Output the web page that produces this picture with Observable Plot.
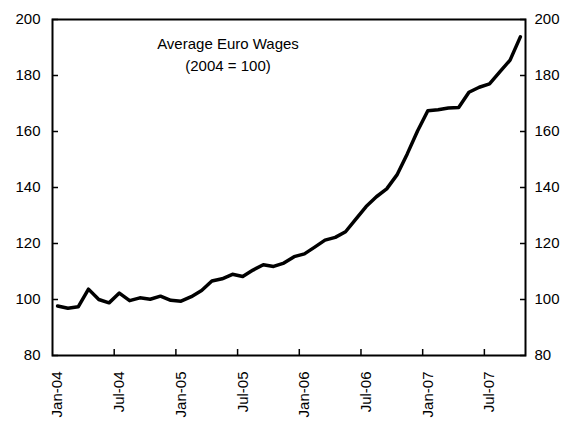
<!DOCTYPE html>
<html><head><meta charset="utf-8">
<script src="https://cdn.jsdelivr.net/npm/d3@7"></script>
<script src="https://cdn.jsdelivr.net/npm/@observablehq/plot@0.6"></script>
<style>body{margin:0;background:#fff} svg{font-family:"Liberation Sans",Arial,sans-serif}</style>
</head><body><div id="chart"></div>
<script>
const months = [
  "Jan-04","Feb-04","Mar-04","Apr-04","May-04","Jun-04","Jul-04","Aug-04","Sep-04","Oct-04","Nov-04","Dec-04",
  "Jan-05","Feb-05","Mar-05","Apr-05","May-05","Jun-05","Jul-05","Aug-05","Sep-05","Oct-05","Nov-05","Dec-05",
  "Jan-06","Feb-06","Mar-06","Apr-06","May-06","Jun-06","Jul-06","Aug-06","Sep-06","Oct-06","Nov-06","Dec-06",
  "Jan-07","Feb-07","Mar-07","Apr-07","May-07","Jun-07","Jul-07","Aug-07","Sep-07","Oct-07"
];
const values = [
  97.7, 96.9, 97.4, 103.7, 100.0, 98.8, 102.3, 99.6, 100.6, 100.1, 101.2, 99.7,
  99.4, 101.0, 103.2, 106.6, 107.4, 109.0, 108.2, 110.5, 112.4, 111.8, 113.0, 115.3,
  116.3, 118.7, 121.2, 122.2, 124.2, 128.7, 133.2, 136.7, 139.5, 144.5, 152.0, 160.2,
  167.4, 167.8, 168.4, 168.6, 174.0, 175.8, 177.0, 181.3, 185.5, 193.8
];
const tickLabels = ["Jan-04","Jul-04","Jan-05","Jul-05","Jan-06","Jul-06","Jan-07","Jul-07"];
const yTicks = [80, 100, 120, 140, 160, 180, 200];
const title = "Average Euro Wages\n(2004 = 100)";

const data = months.map((m, i) => ({i, month: m, value: values[i]}));
const labelIdx = tickLabels.map(t => months.indexOf(t));
const boundaryIdx = labelIdx.slice(1).map(i => i - 0.5);

const chart = Plot.plot({
  width: 566, height: 424,
  marginLeft: 52, marginRight: 41, marginTop: 19, marginBottom: 69,
  style: {fontFamily: '"Liberation Sans", Arial, sans-serif', fontSize: "15px", color: "#000", background: "#fff"},
  x: {domain: [-0.5, months.length - 0.5], label: null},
  y: {domain: [80, 200], label: null},
  marks: [
    Plot.axisY(yTicks, {anchor: "left", tickSize: 0, tickPadding: 12, fontSize: 15, label: null}),
    Plot.axisY(yTicks, {anchor: "left", tickSize: -6, strokeWidth: 1.5, tickFormat: () => "", label: null}),
    Plot.axisY(yTicks, {anchor: "right", tickSize: 0, tickPadding: 9, fontSize: 15, label: null}),
    Plot.axisY(yTicks, {anchor: "right", tickSize: -6, strokeWidth: 1.5, tickFormat: () => "", label: null}),
    Plot.axisX(labelIdx, {anchor: "bottom", tickSize: 0, tickRotate: -90, tickPadding: 16, fontSize: 15, tickFormat: i => months[i], label: null}),
    Plot.axisX(boundaryIdx, {anchor: "bottom", tickSize: -6, strokeWidth: 1.5, tickFormat: () => "", label: null}),
    Plot.frame({stroke: "#000", strokeWidth: 2}),
    Plot.lineY(data, {x: "i", y: "value", stroke: "#000", strokeWidth: 3.5, strokeLinejoin: "round"}),
    Plot.text([title], {frameAnchor: "top", dx: -61, dy: 14, lineAnchor: "top", fontSize: 15, lineHeight: 1.45, fill: "#000"})
  ]
});
document.getElementById("chart").append(chart);
</script>
</body></html>
